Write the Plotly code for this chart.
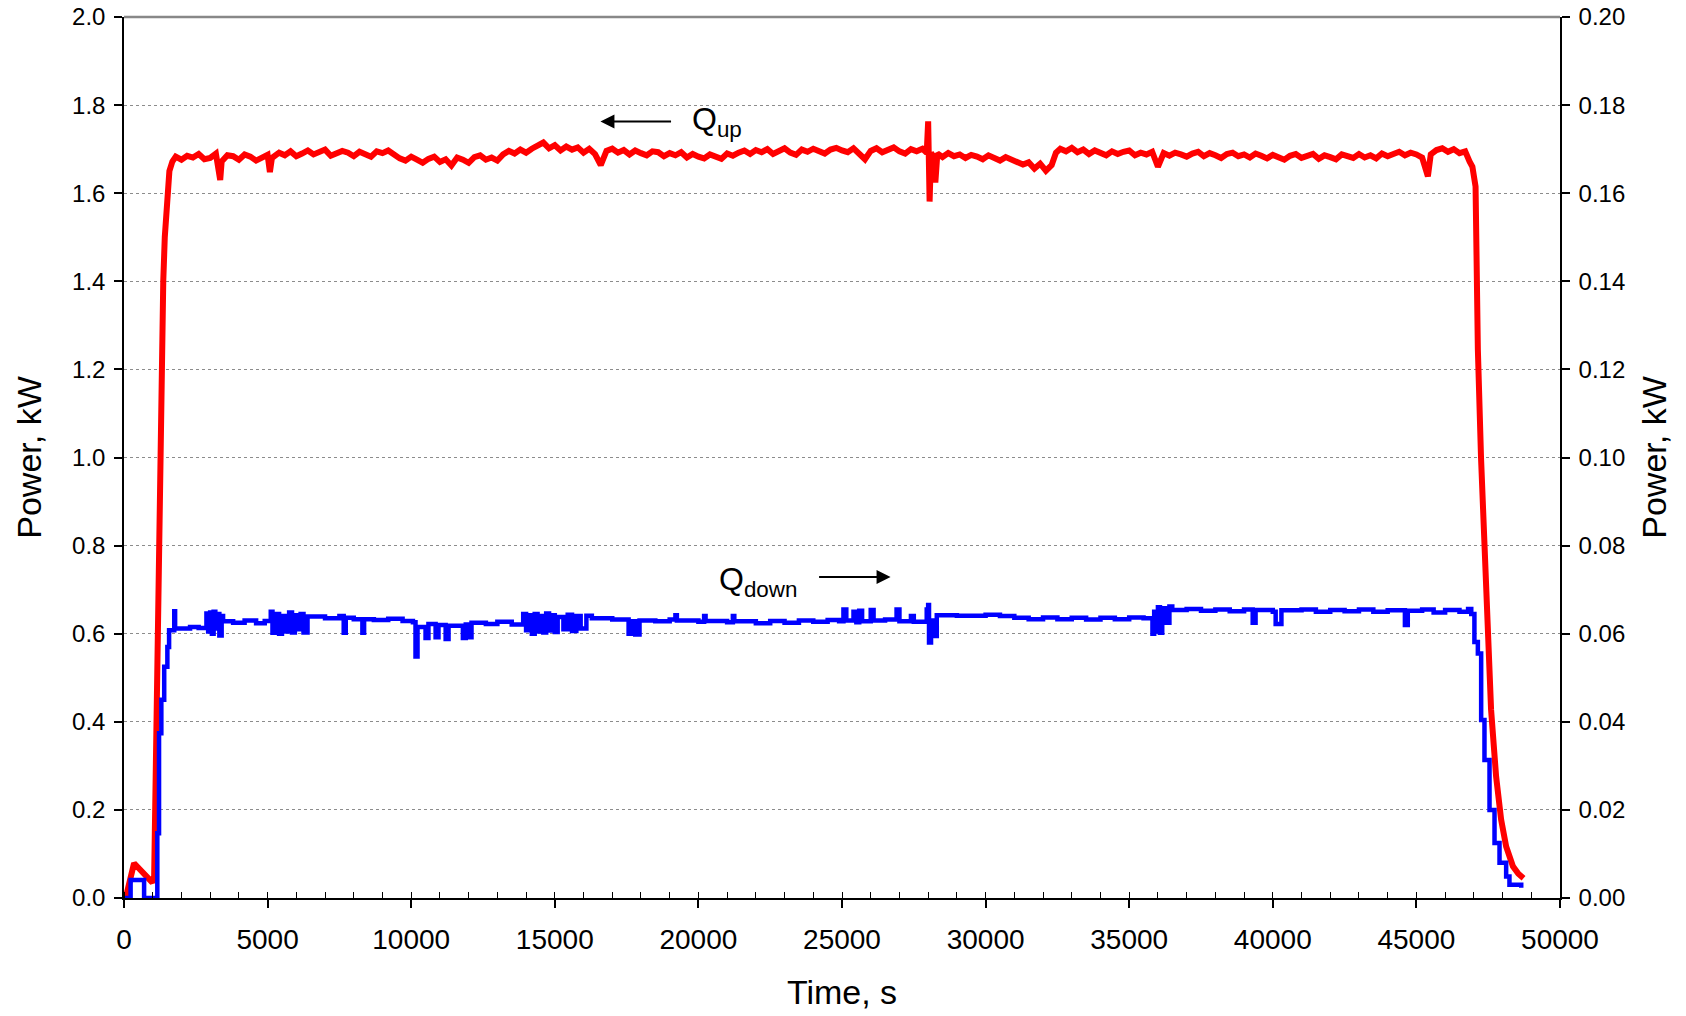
import plotly.graph_objects as go

# ---------------- data ----------------
red_t = [0, 60, 350, 700, 990, 1050, 1090, 1130, 1190, 1230,
         1273, 1320, 1367, 1420, 1498, 1580, 1685, 1800, 2000, 2200,
         2400, 2600, 2800, 3000, 3200, 3350, 3400, 3600, 3800, 4000,
         4200, 4400, 4600, 4800, 5000, 5080, 5150, 5400, 5600, 5800,
         6000, 6200, 6400, 6600, 6800, 7000, 7200, 7400, 7600, 7800,
         8000, 8200, 8400, 8600, 8800, 9000, 9200, 9400, 9600, 9800,
         10000, 10200, 10400, 10600, 10800, 11000, 11200, 11400, 11600, 11800,
         12000, 12200, 12400, 12600, 12800, 13000, 13200, 13400, 13600, 13800,
         14000, 14200, 14400, 14600, 14800, 15000, 15200, 15400, 15600, 15800,
         16000, 16200, 16400, 16600, 16800, 17000, 17200, 17400, 17600, 17800,
         18000, 18200, 18400, 18600, 18800, 19000, 19200, 19400, 19600, 19800,
         20000, 20200, 20400, 20600, 20800, 21000, 21200, 21400, 21600, 21800,
         22000, 22200, 22400, 22600, 22800, 23000, 23200, 23400, 23600, 23800,
         24000, 24200, 24400, 24600, 24800, 25000, 25200, 25400, 25600, 25800,
         26000, 26200, 26400, 26600, 26800, 27000, 27200, 27400, 27600, 27800,
         27950, 28000, 28050, 28100, 28200, 28250, 28320, 28500, 28700, 28900,
         29100, 29300, 29500, 29700, 29900, 30100, 30300, 30500, 30700, 30900,
         31100, 31300, 31500, 31700, 31900, 32100, 32300, 32450, 32600, 32800,
         33000, 33200, 33400, 33600, 33800, 34000, 34200, 34400, 34600, 34800,
         35000, 35200, 35400, 35600, 35800, 36000, 36200, 36400, 36600, 36800,
         37000, 37200, 37400, 37600, 37800, 38000, 38200, 38400, 38600, 38800,
         39000, 39200, 39400, 39600, 39800, 40000, 40200, 40400, 40600, 40800,
         41000, 41200, 41400, 41600, 41800, 42000, 42200, 42400, 42600, 42800,
         43000, 43200, 43400, 43600, 43800, 44000, 44200, 44400, 44600, 44800,
         45000, 45200, 45400, 45500, 45700, 45900, 46100, 46300, 46500, 46700,
         46850, 46950, 47060, 47140, 47250, 47400, 47480, 47600, 47775, 47950,
         48125, 48360, 48550, 48730]
red_q = [0.0, 0.0, 0.079, 0.055, 0.035, 0.05, 0.22, 0.53, 0.68, 0.85,
         1.0, 1.2, 1.4, 1.5, 1.6, 1.65, 1.672, 1.683, 1.676, 1.685,
         1.681, 1.689, 1.677, 1.680, 1.690, 1.630, 1.672, 1.686, 1.684, 1.676,
         1.688, 1.683, 1.674, 1.681, 1.687, 1.648, 1.680, 1.692, 1.686, 1.695,
         1.684, 1.690, 1.697, 1.688, 1.693, 1.699, 1.685, 1.689, 1.696, 1.692,
         1.684, 1.694, 1.688, 1.683, 1.695, 1.691, 1.697, 1.686, 1.679, 1.674,
         1.683, 1.676, 1.669, 1.678, 1.683, 1.671, 1.677, 1.663, 1.681, 1.676,
         1.669, 1.682, 1.686, 1.676, 1.681, 1.674, 1.688, 1.696, 1.690, 1.699,
         1.692, 1.701, 1.708, 1.715, 1.702, 1.709, 1.697, 1.706, 1.699, 1.704,
         1.692, 1.701, 1.689, 1.664, 1.696, 1.701, 1.692, 1.698, 1.688, 1.697,
         1.691, 1.686, 1.695, 1.693, 1.684, 1.691, 1.686, 1.693, 1.681, 1.689,
         1.683, 1.679, 1.688, 1.684, 1.678, 1.690, 1.685, 1.692, 1.697, 1.689,
         1.698, 1.693, 1.700, 1.689, 1.696, 1.702, 1.692, 1.687, 1.699, 1.694,
         1.701, 1.696, 1.690, 1.699, 1.703, 1.697, 1.693, 1.702, 1.690, 1.677,
         1.696, 1.702, 1.693, 1.699, 1.704, 1.695, 1.690, 1.700, 1.695, 1.701,
         1.692, 1.763, 1.581, 1.692, 1.680, 1.624, 1.690, 1.682, 1.691, 1.684,
         1.688, 1.680, 1.687, 1.683, 1.677, 1.686, 1.679, 1.674, 1.682, 1.676,
         1.672, 1.665, 1.670, 1.656, 1.667, 1.651, 1.664, 1.692, 1.701, 1.695,
         1.703, 1.693, 1.699, 1.689, 1.697, 1.691, 1.686, 1.695, 1.689, 1.694,
         1.697, 1.686, 1.692, 1.688, 1.694, 1.660, 1.691, 1.685, 1.692, 1.688,
         1.683, 1.690, 1.694, 1.684, 1.691, 1.686, 1.680, 1.689, 1.692, 1.684,
         1.688, 1.681, 1.690, 1.685, 1.679, 1.687, 1.683, 1.676, 1.685, 1.689,
         1.680, 1.684, 1.689, 1.678, 1.686, 1.682, 1.677, 1.688, 1.683, 1.680,
         1.689, 1.681, 1.686, 1.679, 1.690, 1.684, 1.689, 1.694, 1.686, 1.692,
         1.688, 1.681, 1.638, 1.688, 1.698, 1.702, 1.694, 1.700, 1.691, 1.695,
         1.672, 1.660, 1.615, 1.245, 1.0, 0.768, 0.617, 0.428, 0.276, 0.178,
         0.117, 0.072, 0.055, 0.045]

blue_t = [0, 230, 700, 1100, 1160, 1220, 1300, 1400, 1510, 1570, 1750, 1780, 2000, 2300, 2600, 2870, 2930,
          3000, 3060, 3120, 3180, 3250, 3320, 3400, 3450, 3800, 4200, 4600, 4900, 5110, 5170, 5300, 5400,
          5500, 5600, 5750, 5850, 5950, 6050, 6150, 6250, 6390, 7000, 7500, 7650, 7720, 8000, 8300, 8360,
          8700, 9200, 9700, 10060, 10150, 10220, 10500, 10600, 10850, 10950, 11200, 11300, 11800, 11900,
          12000, 12100, 12600, 13000, 13500, 13900, 14000, 14100, 14200, 14300, 14400, 14500, 14600, 14700,
          14800, 14900, 15000, 15100, 15300, 15450, 15600, 15750, 15900, 16100, 16290, 17000, 17570, 17700,
          17800, 17950, 18500, 19000, 19200, 19250, 20000, 20200, 20250, 21000, 21200, 21250, 22000, 22500,
          23000, 23500, 24000, 24500, 24900, 25050, 25150, 25400, 25500, 25600, 25700, 26000, 26100, 26500,
          26900, 27000, 27400, 27500, 27950, 28000, 28030, 28100, 28200, 28300, 29000, 30000, 30500, 31000,
          31500, 32000, 32500, 33000, 33500, 34000, 34500, 35000, 35500, 35810, 35870, 35930, 36000, 36070,
          36150, 36300, 36400, 36500, 37000, 37500, 38000, 38500, 39000, 39300, 39400, 40000, 40100, 40300,
          41000, 41500, 42000, 42500, 43000, 43500, 44000, 44600, 44700, 45200, 45600, 46000, 46500, 46800,
          46910, 47020, 47140, 47255, 47370, 47546, 47720, 47894, 48125, 48240, 48650]
blue_q = [0.0, 0.0041, 0.0, 0.0, 0.0147, 0.0374, 0.045, 0.0525, 0.057, 0.0608, 0.0651, 0.0612, 0.0612, 0.0615,
          0.0613, 0.0646, 0.0605, 0.0648, 0.0600, 0.0650, 0.0612, 0.0645, 0.0596, 0.0640, 0.0628, 0.0625, 0.0630,
          0.0624, 0.0629, 0.0650, 0.0602, 0.0645, 0.0600, 0.0640, 0.0605, 0.0648, 0.0603, 0.0642, 0.0610, 0.0645,
          0.0603, 0.0639, 0.0635, 0.0640, 0.0602, 0.0636, 0.0633, 0.0602, 0.0633, 0.0631, 0.0634, 0.0629, 0.0626,
          0.0548, 0.0615, 0.0590, 0.0622, 0.0592, 0.0620, 0.0588, 0.0618, 0.0590, 0.0621, 0.0592, 0.0625, 0.0622,
          0.0627, 0.0621, 0.0645, 0.0608, 0.0642, 0.0600, 0.0645, 0.0605, 0.0640, 0.0603, 0.0646, 0.0607, 0.0642,
          0.0604, 0.0638, 0.0610, 0.0643, 0.0606, 0.0640, 0.0612, 0.0641, 0.0635, 0.0632, 0.0600, 0.0628, 0.0598,
          0.0630, 0.0628, 0.0632, 0.0642, 0.0630, 0.0627, 0.0640, 0.0629, 0.0626, 0.0640, 0.0628, 0.0624, 0.0629,
          0.0625, 0.0630, 0.0627, 0.0631, 0.0628, 0.0655, 0.0630, 0.0650, 0.0626, 0.0652, 0.0628, 0.0654, 0.0630,
          0.0632, 0.0655, 0.0628, 0.0640, 0.0627, 0.0655, 0.0665, 0.0580, 0.0630, 0.0595, 0.0642, 0.0641, 0.0643,
          0.0640, 0.0636, 0.0633, 0.0637, 0.0633, 0.0636, 0.0632, 0.0636, 0.0633, 0.0637, 0.0635, 0.0600, 0.0650,
          0.0605, 0.0660, 0.0602, 0.0658, 0.0625, 0.0662, 0.0654, 0.0656, 0.0652, 0.0655, 0.0651, 0.0655, 0.0625,
          0.0654, 0.0650, 0.0622, 0.0653, 0.0655, 0.0650, 0.0654, 0.0651, 0.0655, 0.0650, 0.0653, 0.0620, 0.0652,
          0.0655, 0.0648, 0.0654, 0.0650, 0.0656, 0.0645, 0.0581, 0.0555, 0.0404, 0.0313, 0.0200, 0.0125, 0.0080,
          0.0049, 0.0030, 0.0023]

x_ticks = [0, 5000, 10000, 15000, 20000, 25000, 30000, 35000, 40000, 45000, 50000]
left_ticks = [0.0, 0.2, 0.4, 0.6, 0.8, 1.0, 1.2, 1.4, 1.6, 1.8, 2.0]
right_ticks = [0.00, 0.02, 0.04, 0.06, 0.08, 0.10, 0.12, 0.14, 0.16, 0.18, 0.20]

# ---------------- figure ----------------
FONT = "Liberation Sans, Arial, sans-serif"
fig = go.Figure()
fig.add_trace(go.Scatter(x=blue_t, y=blue_q, mode="lines", line=dict(color="#0000FF", width=4.5, shape="hv"),
                         yaxis="y2", name="Q down"))
fig.add_trace(go.Scatter(x=red_t, y=red_q, mode="lines", line=dict(color="#FF0000", width=6),
                         yaxis="y", name="Q up"))

fig.update_layout(
    width=1686, height=1016, autosize=False,
    margin=dict(l=124, r=126, t=17, b=118),
    paper_bgcolor="white", plot_bgcolor="white",
    showlegend=False,
    font=dict(family=FONT, size=24, color="black"),
    xaxis=dict(range=[0, 50000], tickvals=x_ticks, ticktext=[str(v) for v in x_ticks],
               ticks="outside", ticklen=8, tickwidth=1.5, tickcolor="black",
               showline=True, linecolor="black", linewidth=1.5, showgrid=False, zeroline=False,
               minor=dict(ticks="inside", dtick=1000, ticklen=6, tickwidth=1.2, tickcolor="black", showgrid=False),
               title=dict(text="Time, s", font=dict(size=34), standoff=26),
               automargin=False,
               ticklabelstandoff=8, ticklabeloverflow="allow", tickfont=dict(size=28)),
    xaxis2=dict(overlaying="x", anchor="y", side="bottom", range=[0, 50000], tickvals=x_ticks,
                ticks="inside", ticklen=8, tickwidth=1.5, tickcolor="black", automargin=False,
                showticklabels=False, showgrid=False, showline=False, zeroline=False),
    yaxis=dict(range=[0, 2.0], tickvals=left_ticks, ticktext=["%.1f" % v for v in left_ticks],
               ticks="outside", ticklen=8, tickwidth=1.5, tickcolor="black",
               showline=True, linecolor="black", linewidth=1.5, zeroline=False,
               showgrid=True, gridcolor="#8c8c8c", griddash="dot", gridwidth=1,
               title=dict(text="Power, kW", font=dict(size=34), standoff=20),
               automargin=False,
               ticklabelstandoff=4, ticklabeloverflow="allow", tickfont=dict(size=24)),
    yaxis2=dict(overlaying="y", side="right", anchor="x", range=[0, 0.2], tickvals=right_ticks,
                ticktext=["%.2f" % v for v in right_ticks],
                ticks="outside", ticklen=8, tickwidth=1.5, tickcolor="black",
                showline=True, linecolor="black", linewidth=1.5, zeroline=False, showgrid=False,
                title=dict(text="Power, kW", font=dict(size=34), standoff=18),
                automargin=False,
                ticklabelstandoff=4, ticklabeloverflow="allow", tickfont=dict(size=24)),
    yaxis3=dict(overlaying="y", side="right", anchor="x", range=[0, 0.2], tickvals=right_ticks,
                ticks="inside", ticklen=8, tickwidth=1.5, tickcolor="black", automargin=False,
                showticklabels=False, showline=False, zeroline=False, showgrid=False),
)

# top border of plot area (gray)
fig.add_shape(type="line", xref="paper", yref="paper", x0=0, x1=1, y0=1, y1=1,
              line=dict(color="#888888", width=2.5))

# annotations: arrows and labels
fig.add_annotation(x=16590, y=1.763, ax=19100, ay=1.763, xref="x", yref="y", axref="x", ayref="y",
                   text="", showarrow=True, arrowhead=2, arrowsize=1.4, arrowwidth=2, arrowcolor="black")
fig.add_annotation(x=19700, y=1.763, xref="x", yref="y", text="Q<sub>up</sub>", showarrow=False,
                   xanchor="left", yanchor="middle", font=dict(size=32, family=FONT, color="black"))
fig.add_annotation(x=26690, y=0.7285, ax=24150, ay=0.7285, xref="x", yref="y", axref="x", ayref="y",
                   text="", showarrow=True, arrowhead=2, arrowsize=1.4, arrowwidth=2, arrowcolor="black")
fig.add_annotation(x=20650, y=0.719, xref="x", yref="y", text="Q<sub>down</sub>", showarrow=False,
                   xanchor="left", yanchor="middle", font=dict(size=32, family=FONT, color="black"))

fig.write_html("out.html",
               config={"displayModeBar": False},
               post_script="document.body.style.margin='0';document.body.style.overflow='hidden';")
